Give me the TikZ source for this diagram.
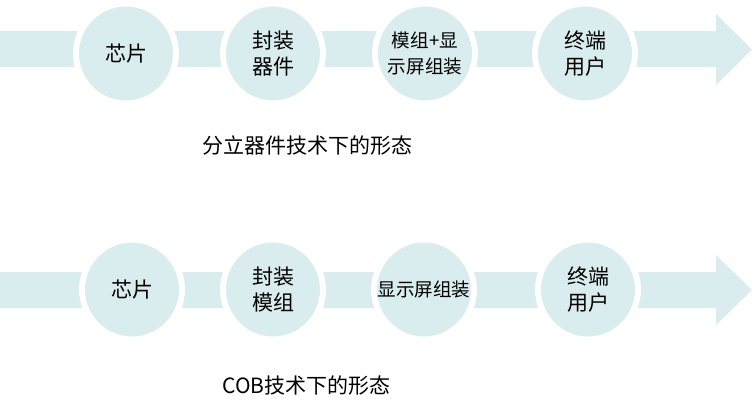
\documentclass[tikz,border=0pt]{standalone}
\usepackage{fontspec}
\setmainfont{Noto Sans CJK SC}
\usepackage{xcolor}
\definecolor{bandteal}{RGB}{217,236,238}

\begin{document}
\begin{tikzpicture}[
  x=1pt, y=-1pt,
  band/.style    = {fill=bandteal, draw=none},
  stage/.style   = {circle, fill=bandteal, draw=white, line width=6pt,
                    minimum size=100pt, inner sep=0pt, align=center,
                    font=\fontsize{21}{26}\selectfont},
  stagesm/.style = {stage, font=\fontsize{18.6}{26}\selectfont},
  caption/.style = {font=\fontsize{21}{26}\selectfont, inner sep=0pt}
]
\useasboundingbox (0,0) rectangle (755,402);

% top row: discrete devices
\path[band] (0,31) -- (716,31) -- (716,14) -- (752,49.5)
  -- (716,85) -- (716,67) -- (0,67) -- cycle;
\node[stage]   (chipA) at (126,53.5) {芯片};
\node[stage]   (pkgA)  at (273,53.5) {封装\\器件};
\node[stagesm] (modA)  at (425,53.5) {模组+显\\示屏组装};
\node[stage]   (userA) at (585,53.5) {终端\\用户};
\node[caption] (capA)  at (307.5,146) {分立器件技术下的形态};

% bottom row: COB
\path[band] (0,272) -- (716,272) -- (716,255) -- (752,290)
  -- (716,325) -- (716,308) -- (0,308) -- cycle;
\node[stage]   (chipB) at (132,289.5) {芯片};
\node[stage]   (pkgB)  at (273,289.5) {封装\\模组};
\node[stagesm] (modB)  at (424,289.5) {显示屏组装};
\node[stage]   (userB) at (588,289.5) {终端\\用户};
\node[caption] (capB)  at (306.5,386) {COB技术下的形态};
\end{tikzpicture}
\end{document}
